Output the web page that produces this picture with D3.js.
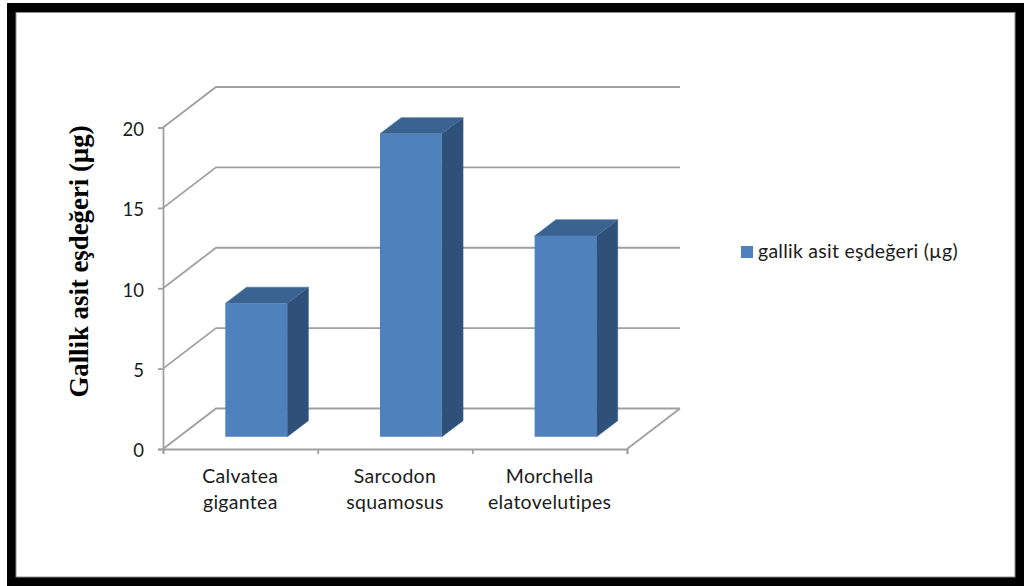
<!DOCTYPE html>
<html>
<head>
<meta charset="utf-8">
<style>
  html, body { margin: 0; padding: 0; background: #fff; }
  svg { display: block; }
  .lbl { font-family: Lato, "Open Sans", sans-serif; fill: #1c1c1c; }
</style>
<script src="https://cdn.jsdelivr.net/npm/d3@7/dist/d3.min.js"></script>
</head>
<body>
<svg id="chart" width="1024" height="586"></svg>
<script>
// Gallic acid equivalents per mushroom species
const categories = [["Calvatea", "gigantea"], ["Sarcodon", "squamosus"], ["Morchella", "elatovelutipes"]];
const values = [8.3, 18.85, 12.5];
const yTicks = [0, 5, 10, 15, 20];
const seriesName = "gallik asit eşdeğeri (µg)";
const yTitle = "Gallik asit eşdeğeri (µg)";

const svg = d3.select("#chart");

// Black frame with a thin grey inner edge
svg.append("rect").attr("x", 7).attr("y", 3).attr("width", 1017).attr("height", 583).attr("fill", "#000");
svg.append("rect").attr("x", 16).attr("y", 12.5).attr("width", 999).attr("height", 564.5)
  .attr("fill", "#fff").attr("stroke", "#8c8c8c").attr("stroke-width", 1);

// Front plane of the 3D box
const x = d3.scaleBand().domain(d3.range(categories.length)).range([163, 627]).paddingInner(0).paddingOuter(0);
const y = d3.scaleLinear().domain([0, 20]).range([449, 127.5]);

// Oblique projection: depth 0 at the front plane, 1 at the back wall
const depthX = d3.scaleLinear().domain([0, 1]).range([0, 53]);
const depthY = d3.scaleLinear().domain([0, 1]).range([0, -40.5]);
const pt = (px, py, d) => [px + depthX(d), py + depthY(d)];
const poly = pts => "M" + pts.map(p => p.join(",")).join("L") + "Z";

const gridColor = "#a0a0a0";
const gridWidth = 1.8;
const grid = svg.append("g").attr("fill", "none").attr("stroke", gridColor).attr("stroke-width", gridWidth);

// Wall gridlines and the side-wall diagonals
yTicks.forEach(t => {
  const a = pt(163, y(t), 0), b = pt(163, y(t), 1), c = pt(627, y(t), 1);
  grid.append("path").attr("d", d3.line()([a, b, c]));
});
// Floor front-right diagonal
grid.append("path").attr("d", d3.line()([pt(627, y(0), 0), pt(627, y(0), 1)]));

// Value axis
const yAxis = d3.axisLeft(y).tickValues(yTicks).tickSize(5).tickPadding(14);
const yg = svg.append("g").attr("transform", "translate(163,0)").call(yAxis);
yg.select(".domain").attr("stroke", gridColor).attr("stroke-width", gridWidth);
yg.selectAll("line").attr("stroke", gridColor).attr("stroke-width", gridWidth);
yg.selectAll("text").attr("class", "lbl").attr("font-size", 18.5).attr("font-family", null).attr("dy", "0.42em");

// Category axis with ticks on the band boundaries
const xEdges = d3.scaleLinear().domain([0, categories.length]).range([163, 627]);
const xAxis = d3.axisBottom(xEdges).tickValues(d3.range(categories.length + 1)).tickSize(5).tickFormat("");
const xg = svg.append("g").attr("transform", "translate(0,449)").call(xAxis);
xg.select(".domain").attr("stroke", gridColor).attr("stroke-width", gridWidth);
xg.selectAll("line").attr("stroke", gridColor).attr("stroke-width", gridWidth);

// Two-line category labels
categories.forEach((lines, i) => {
  const t = svg.append("text").attr("class", "lbl").attr("text-anchor", "middle").attr("font-size", 19.5)
    .attr("letter-spacing", 0.3);
  lines.forEach((s, k) => {
    t.append("tspan").attr("x", x(i) + x.bandwidth() / 2).attr("y", 483 + k * 25.5).text(s);
  });
});

// Columns: front face, top and right side
const barWidth = x.bandwidth() / 2.5;
const barFront = 0.3, barBack = 0.7;
const bars = svg.append("g").selectAll("g").data(values).join("g");
bars.each(function (v, i) {
  const g = d3.select(this);
  const x0 = x(i) + (x.bandwidth() - barWidth) / 2;
  const x1 = x0 + barWidth;
  const base = y(0), top = y(v);
  g.append("path").attr("fill", "#2f5179").attr("stroke", "#3a5f8c").attr("stroke-width", 0.6)
    .attr("d", poly([pt(x1, base, barFront), pt(x1, top, barFront), pt(x1, top, barBack), pt(x1, base, barBack)]));
  g.append("path").attr("fill", "#3b6391").attr("stroke", "#4a74a6").attr("stroke-width", 0.6)
    .attr("d", poly([pt(x0, top, barFront), pt(x1, top, barFront), pt(x1, top, barBack), pt(x0, top, barBack)]));
  g.append("path").attr("fill", "#4f81bd")
    .attr("d", poly([pt(x0, base, barFront), pt(x1, base, barFront), pt(x1, top, barFront), pt(x0, top, barFront)]));
});

// Legend
svg.append("rect").attr("x", 741).attr("y", 246).attr("width", 12).attr("height", 12).attr("fill", "#4f81bd");
svg.append("text").attr("class", "lbl").attr("x", 758).attr("y", 258).attr("font-size", 19.5)
  .attr("letter-spacing", 0.25).text(seriesName);

// Rotated value-axis title
svg.append("text")
  .attr("transform", "translate(88,261.5) rotate(-90)")
  .attr("text-anchor", "middle")
  .attr("font-family", '"Liberation Serif", serif')
  .attr("font-weight", "bold")
  .attr("font-size", 26.8)
  .attr("fill", "#000")
  .text(yTitle);
</script>
</body>
</html>
